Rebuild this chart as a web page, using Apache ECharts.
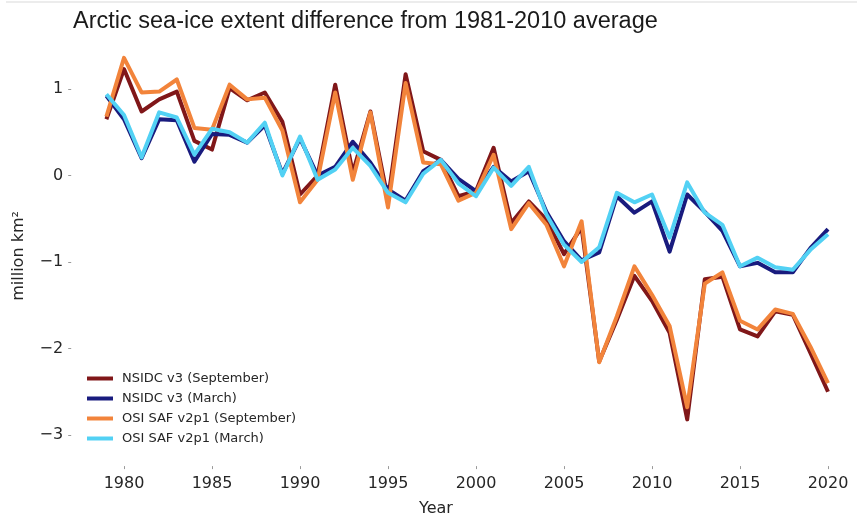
<!DOCTYPE html>
<html>
<head>
<meta charset="utf-8">
<script src="https://cdn.jsdelivr.net/npm/echarts@6/dist/echarts.min.js"></script>
<style>
  html, body { margin: 0; padding: 0; background: #ffffff; }
  #chart { width: 857px; height: 521px; }
</style>
</head>
<body>
<div id="chart"></div>
<script>
// Arctic sea-ice extent anomalies (million km², relative to 1981-2010)
const years = [1979,1980,1981,1982,1983,1984,1985,1986,1987,1988,1989,1990,1991,1992,1993,1994,1995,1996,1997,1998,1999,
               2000,2001,2002,2003,2004,2005,2006,2007,2008,2009,2010,2011,2012,2013,2014,2015,2016,2017,2018,2019,2020];

const nsidcSeptember = [0.65,1.23,0.74,0.88,0.97,0.40,0.30,1.01,0.87,0.96,0.62,-0.22,0.00,1.05,0.03,0.74,-0.28,1.17,0.28,0.18,-0.24,
                        -0.18,0.32,-0.55,-0.30,-0.51,-0.91,-0.60,-2.15,-1.67,-1.16,-1.45,-1.82,-2.82,-1.20,-1.17,-1.78,-1.86,-1.57,-1.61,-2.05,-2.50];
const nsidcMarch = [0.92,0.65,0.20,0.65,0.64,0.16,0.48,0.47,0.38,0.58,0.02,0.43,0.00,0.10,0.39,0.15,-0.16,-0.29,0.05,0.18,-0.04,
                    -0.18,0.10,-0.07,0.05,-0.42,-0.76,-0.98,-0.89,-0.24,-0.43,-0.30,-0.88,-0.22,-0.42,-0.64,-1.05,-1.01,-1.12,-1.12,-0.84,-0.62];
const osiSeptember = [0.68,1.36,0.96,0.97,1.11,0.55,0.53,1.05,0.88,0.90,0.52,-0.31,-0.05,0.96,-0.05,0.73,-0.37,1.07,0.15,0.13,-0.29,
                      -0.20,0.24,-0.62,-0.32,-0.57,-1.05,-0.53,-2.16,-1.63,-1.05,-1.38,-1.74,-2.68,-1.25,-1.12,-1.68,-1.78,-1.55,-1.60,-1.98,-2.40];
const osiMarch = [0.94,0.70,0.21,0.73,0.67,0.24,0.54,0.50,0.38,0.61,0.00,0.45,-0.05,0.07,0.32,0.11,-0.20,-0.31,0.02,0.18,-0.09,
                  -0.24,0.09,-0.12,0.10,-0.45,-0.80,-1.00,-0.83,-0.20,-0.31,-0.22,-0.72,-0.08,-0.43,-0.57,-1.05,-0.95,-1.06,-1.09,-0.86,-0.68];

const xTicks = [1980,1985,1990,1995,2000,2005,2010,2015,2020];
const yTicks = [-3,-2,-1,0,1];

const seriesNames = ['NSIDC v3 (September)','NSIDC v3 (March)','OSI SAF v2p1 (September)','OSI SAF v2p1 (March)'];
const seriesColors = ['#801719','#191b7e','#f2843b','#52d1f4'];
const seriesValues = [nsidcSeptember, nsidcMarch, osiSeptember, osiMarch];

const tickFont = 'DejaVu Sans';

const chart = echarts.init(document.getElementById('chart'), null, { renderer: 'canvas' });

chart.setOption({
  animation: false,
  backgroundColor: '#ffffff',
  title: {
    text: 'Arctic sea-ice extent difference from 1981-2010 average',
    left: 68,
    top: 5,
    textStyle: { fontFamily: 'Liberation Sans', fontSize: 23.5, fontWeight: 'normal', color: '#1a1a1a' }
  },
  legend: {
    orient: 'vertical',
    left: 82,
    top: 367,
    icon: 'rect',
    itemWidth: 26,
    itemHeight: 4,
    itemGap: 7,
    textStyle: { fontFamily: tickFont, fontSize: 13, color: '#262626', padding: [0, 0, 0, 4] },
    data: seriesNames
  },
  grid: { left: 71.2, right: 2.6, top: 45.75, bottom: 54.9, containLabel: false },
  xAxis: {
    type: 'value',
    min: 1977,
    max: 2021.5,
    axisLine: { show: false, onZero: false },
    splitLine: { show: false },
    axisTick: { show: true, length: 3, lineStyle: { color: '#9a9a9a' }, customValues: xTicks },
    axisLabel: {
      customValues: xTicks, fontFamily: tickFont, fontSize: 16, color: '#262626', margin: 10,
      formatter: v => String(v)
    }
  },
  yAxis: {
    type: 'value',
    min: -3.36,
    max: 1.5,
    name: 'million km²',
    nameLocation: 'middle',
    nameGap: 44,
    nameTextStyle: { fontFamily: tickFont, fontSize: 16, color: '#262626' },
    axisLine: { show: false, onZero: false },
    splitLine: { show: false },
    axisTick: { show: true, length: 3, lineStyle: { color: '#9a9a9a' }, customValues: yTicks },
    axisLabel: {
      customValues: yTicks,
      fontFamily: tickFont, fontSize: 16, color: '#262626', margin: 8,
      formatter: v => (v < 0 ? '\u2212' + Math.abs(v) : String(v))
    }
  },
  graphic: [
    {
      type: 'line',
      shape: { x1: 6, y1: 2, x2: 857, y2: 2 },
      style: { stroke: '#ececec', lineWidth: 2 },
      silent: true
    },
    {
      type: 'text',
      left: 419,
      top: 501,
      style: { text: 'Year', fontFamily: tickFont, fontSize: 16, fill: '#262626' }
    }
  ],
  series: seriesNames.map((name, i) => ({
    name: name,
    type: 'line',
    data: years.map((y, j) => [y, seriesValues[i][j]]),
    showSymbol: false,
    symbol: 'none',
    lineStyle: { width: 4, color: seriesColors[i], join: 'round' },
    itemStyle: { color: seriesColors[i] },
    z: 2 + i
  }))
});
</script>
</body>
</html>
